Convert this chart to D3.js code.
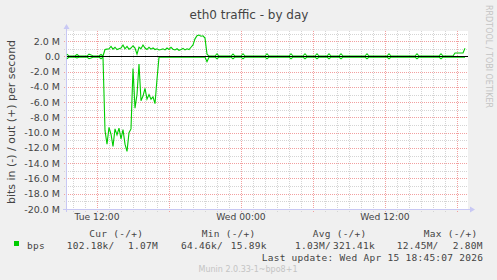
<!DOCTYPE html>
<html>
<head>
<meta charset="utf-8">
<script src="https://cdn.jsdelivr.net/npm/d3@7"></script>
<style>
  html, body { margin: 0; padding: 0; background: #f0f0f0; }
  svg { display: block; }
</style>
</head>
<body>
<div id="chart"></div>
<script>
// samples every 10 minutes from Tue 09:30, values in Mbit/s
const START = new Date(2026, 3, 14, 9, 30);
const END = new Date(2026, 3, 15, 18, 55);
const STEP_MINUTES = 10;

const OUT_MBPS = [
  0.3, 0.05, 0.05, 0.05, 0.05, 0.25, 0.05, 0.05, 0.05, 0.05,
  0.05, 0.3, 0.2, 0.05, 0.05, 0.05, 0.05, 0.25, 0.05, 0.9,
  0.95, 1.0, 1.3, 0.95, 1.2, 0.9, 1.0, 1.1, 1.5, 1.0,
  1.3, 0.95, 1.1, 1.4, 1.1, 0.3, 1.2, 1.0, 1.5, 1.1,
  0.9, 1.2, 0.95, 1.1, 0.9, 1.0, 0.85, 0.9, 1.0, 0.85,
  1.1, 0.9, 1.2, 0.95, 0.85, 1.0, 0.8, 0.9, 1.05, 0.85,
  1.0, 0.9, 1.2, 1.5, 2.3, 2.7, 2.8, 2.65, 2.7, 2.4,
  0.3, 0.05, 0.05, 0.05, 0.05, 0.35, 0.05, 0.05, 0.05, 0.05,
  0.05, 0.05, 0.05, 0.3, 0.05, 0.05, 0.05, 0.05, 0.35, 0.05,
  0.05, 0.05, 0.05, 0.05, 0.05, 0.05, 0.05, 0.05, 0.05, 0.05,
  0.35, 0.05, 0.05, 0.05, 0.05, 0.05, 0.05, 0.05, 0.05, 0.05,
  0.05, 0.05, 0.35, 0.05, 0.05, 0.05, 0.05, 0.05, 0.05, 0.35,
  0.05, 0.05, 0.05, 0.05, 0.05, 0.35, 0.05, 0.05, 0.05, 0.05,
  0.05, 0.35, 0.05, 0.05, 0.05, 0.05, 0.05, 0.35, 0.05, 0.05,
  0.05, 0.05, 0.05, 0.05, 0.05, 0.05, 0.05, 0.05, 0.05, 0.05,
  0.35, 0.05, 0.05, 0.05, 0.05, 0.05, 0.05, 0.05, 0.05, 0.05,
  0.05, 0.35, 0.05, 0.05, 0.05, 0.05, 0.05, 0.05, 0.05, 0.05,
  0.05, 0.05, 0.05, 0.05, 0.05, 0.35, 0.05, 0.05, 0.05, 0.05,
  0.05, 0.05, 0.05, 0.05, 0.05, 0.05, 0.05, 0.35, 0.05, 0.05,
  0.05, 0.05, 0.05, 0.05, 0.45, 0.45, 0.45, 0.45, 0.45, 1.07,
];

// drawn below zero
const IN_MBPS = [
  0.3, 0.1, 0.1, 0.1, 0.1, 0.2, 0.1, 0.1, 0.1, 0.1,
  0.1, 0.3, 0.2, 0.1, 0.1, 0.1, 0.1, 0.3, 0.1, 9.7,
  11.5, 9.3, 10.2, 11.8, 9.5, 10.3, 9.4, 10.8, 9.6, 11.5,
  12.45, 10.0, 9.5, 1.6, 6.8, 5.0, 1.0, 5.8, 5.2, 4.2,
  5.6, 5.0, 5.6, 5.3, 6.2, 3.0, 0.1, 0.1, 0.1, 0.1,
  0.1, 0.1, 0.1, 0.1, 0.1, 0.1, 0.1, 0.1, 0.1, 0.1,
  0.1, 0.1, 0.1, 0.1, 0.1, 0.1, 0.1, 0.1, 0.1, 0.1,
  0.7, 0.1, 0.1, 0.1, 0.1, 0.3, 0.1, 0.1, 0.1, 0.1,
  0.1, 0.1, 0.1, 0.3, 0.1, 0.1, 0.1, 0.1, 0.3, 0.1,
  0.1, 0.1, 0.1, 0.1, 0.1, 0.1, 0.1, 0.1, 0.1, 0.1,
  0.3, 0.1, 0.1, 0.1, 0.1, 0.1, 0.1, 0.1, 0.1, 0.1,
  0.1, 0.1, 0.3, 0.1, 0.1, 0.1, 0.1, 0.1, 0.1, 0.3,
  0.1, 0.1, 0.1, 0.1, 0.1, 0.3, 0.1, 0.1, 0.1, 0.1,
  0.1, 0.3, 0.1, 0.1, 0.1, 0.1, 0.1, 0.3, 0.1, 0.1,
  0.1, 0.1, 0.1, 0.1, 0.1, 0.1, 0.1, 0.1, 0.1, 0.1,
  0.3, 0.1, 0.1, 0.1, 0.1, 0.1, 0.1, 0.1, 0.1, 0.1,
  0.1, 0.3, 0.1, 0.1, 0.1, 0.1, 0.1, 0.1, 0.1, 0.1,
  0.1, 0.1, 0.1, 0.1, 0.1, 0.3, 0.1, 0.1, 0.1, 0.1,
  0.1, 0.1, 0.1, 0.1, 0.1, 0.1, 0.1, 0.3, 0.1, 0.1,
  0.1, 0.1, 0.1, 0.1, 0.1, 0.1, 0.1, 0.1, 0.1, 0.1,
];

const Y_TICKS = [2, 0, -2, -4, -6, -8, -10, -12, -14, -16, -18, -20];
const X_LABELS = [
  { time: new Date(2026, 3, 14, 12), label: "Tue 12:00" },
  { time: new Date(2026, 3, 15, 0), label: "Wed 00:00" },
  { time: new Date(2026, 3, 15, 12), label: "Wed 12:00" },
];

const LEGEND_HEADERS = ["Cur (-/+)", "Min (-/+)", "Avg (-/+)", "Max (-/+)"];
const LEGEND_IN = ["102.18k/", "64.46k/", "1.03M/", "12.45M/"];
const LEGEND_OUT = ["1.07M", "15.89k", "321.41k", "2.80M"];
const LAST_UPDATE = "Last update: Wed Apr 15 18:45:07 2026";

const GREEN = "#00cc00";
const TEXT = "#444";
const MONO = "'DejaVu Sans Mono', monospace";
const SANS = "'DejaVu Sans', sans-serif";

const width = 497;
const height = 280;
const plot = { left: 67, right: 468, top: 31, bottom: 209 };

const svg = d3
  .select("#chart")
  .append("svg")
  .attr("width", width)
  .attr("height", height)
  .attr("viewBox", [0, 0, width, height]);

svg.append("rect").attr("width", width).attr("height", height).attr("fill", "#f0f0f0");

const x = d3.scaleTime().domain([START, END]).range([plot.left, plot.right]);
const y = d3.scaleLinear().domain([-20, 3.33]).range([plot.bottom, plot.top]);

const px = (v) => Math.round(v) + 0.5;

svg
  .append("rect")
  .attr("x", plot.left)
  .attr("y", plot.top)
  .attr("width", plot.right - plot.left)
  .attr("height", plot.bottom - plot.top)
  .attr("fill", "#ffffff");

// grid
const grid = svg.append("g").attr("stroke-width", 1).attr("stroke-dasharray", "1,1");
const hours = d3.timeHour.range(START, END);

grid
  .selectAll("line.vgrid")
  .data(hours)
  .join("line")
  .attr("class", "vgrid")
  .attr("x1", (d) => px(x(d)))
  .attr("x2", (d) => px(x(d)))
  .attr("y1", plot.top)
  .attr("y2", plot.bottom + 3)
  .attr("stroke", (d) => (d.getHours() % 6 === 0 ? "#f2a0a0" : "#d4d4d4"));

const mbSteps = d3.range(-19, 4);

grid
  .selectAll("line.hgrid")
  .data(mbSteps)
  .join("line")
  .attr("class", "hgrid")
  .attr("x1", plot.left - 3)
  .attr("x2", plot.right)
  .attr("y1", (d) => px(y(d)))
  .attr("y2", (d) => px(y(d)))
  .attr("stroke", (d) => (d % 2 === 0 ? "#f2a0a0" : "#d4d4d4"));

// axes
const axisColor = "#c8c8f4";

svg
  .append("line")
  .attr("x1", plot.left - 4)
  .attr("x2", plot.right + 2)
  .attr("y1", px(plot.bottom))
  .attr("y2", px(plot.bottom))
  .attr("stroke", axisColor);

svg
  .append("line")
  .attr("x1", px(plot.left - 1))
  .attr("x2", px(plot.left - 1))
  .attr("y1", plot.bottom + 3)
  .attr("y2", plot.top - 2)
  .attr("stroke", axisColor);

svg
  .append("path")
  .attr("d", `M${plot.right + 2},${plot.bottom - 2.5} L${plot.right + 7},${plot.bottom + 0.5} L${plot.right + 2},${plot.bottom + 3.5} Z`)
  .attr("fill", axisColor);

svg
  .append("path")
  .attr("d", `M${plot.left - 3.5},${plot.top - 2} L${plot.left - 0.5},${plot.top - 7} L${plot.left + 2.5},${plot.top - 2} Z`)
  .attr("fill", axisColor);

// tick labels
svg
  .append("g")
  .selectAll("text")
  .data(Y_TICKS)
  .join("text")
  .attr("x", 60)
  .attr("y", (d) => y(d) + 3.5)
  .attr("text-anchor", "end")
  .attr("font-family", SANS)
  .attr("font-size", 9.5)
  .attr("fill", TEXT)
  .text((d) => (d === 0 ? "0.0" : `${d.toFixed(1)} M`));

svg
  .append("g")
  .selectAll("text")
  .data(X_LABELS)
  .join("text")
  .attr("x", (d) => x(d.time))
  .attr("y", 220)
  .attr("text-anchor", "middle")
  .attr("font-family", SANS)
  .attr("font-size", 9.2)
  .attr("fill", TEXT)
  .text((d) => d.label);

// data lines
const series = (values, sign) =>
  values.map((v, i) => ({ time: d3.timeMinute.offset(START, i * STEP_MINUTES), value: sign * v }));

const line = d3
  .line()
  .x((d) => x(d.time))
  .y((d) => y(d.value));

svg
  .append("path")
  .datum(series(IN_MBPS, -1))
  .attr("fill", "none")
  .attr("stroke", GREEN)
  .attr("stroke-width", 1.1)
  .attr("d", line);

svg
  .append("path")
  .datum(series(OUT_MBPS, 1))
  .attr("fill", "none")
  .attr("stroke", GREEN)
  .attr("stroke-width", 1.1)
  .attr("d", line);

svg
  .append("line")
  .attr("x1", plot.left)
  .attr("x2", plot.right)
  .attr("y1", px(y(0)))
  .attr("y2", px(y(0)))
  .attr("stroke", "#000");

// titles
svg
  .append("text")
  .attr("x", 249)
  .attr("y", 18.5)
  .attr("text-anchor", "middle")
  .attr("font-family", SANS)
  .attr("font-size", 12)
  .attr("fill", "#444")
  .text("eth0 traffic - by day");

svg
  .append("text")
  .attr("transform", `translate(15,${(plot.top + plot.bottom) / 2 + 2}) rotate(-90)`)
  .attr("text-anchor", "middle")
  .attr("font-family", SANS)
  .attr("font-size", 11)
  .attr("fill", TEXT)
  .text("bits in (-) / out (+) per second");

svg
  .append("text")
  .attr("transform", "translate(486,5) rotate(90)")
  .attr("font-family", SANS)
  .attr("font-size", 8)
  .attr("fill", "#c4c4c4")
  .text("RRDTOOL / TOBI OETIKER");

// legend
const headerX = [89.3, 201.7, 312.7, 423.7];
const inStartX = [66.7, 181, 295, 396.7];
const outEndX = [158, 266.7, 375, 482.7];

const legend = svg
  .append("g")
  .attr("font-family", MONO)
  .attr("font-size", 9.5)
  .attr("letter-spacing", 0.27)
  .attr("fill", TEXT);

legend
  .selectAll("text.head")
  .data(LEGEND_HEADERS)
  .join("text")
  .attr("class", "head")
  .attr("x", (d, i) => headerX[i])
  .attr("y", 237)
  .text((d) => d);

legend
  .append("rect")
  .attr("x", 14)
  .attr("y", 241)
  .attr("width", 5)
  .attr("height", 5)
  .attr("fill", GREEN);

legend.append("text").attr("x", 27).attr("y", 248.5).text("bps");

legend
  .selectAll("text.in")
  .data(LEGEND_IN)
  .join("text")
  .attr("class", "in")
  .attr("x", (d, i) => inStartX[i])
  .attr("y", 248.5)
  .text((d) => d);

legend
  .selectAll("text.out")
  .data(LEGEND_OUT)
  .join("text")
  .attr("class", "out")
  .attr("x", (d, i) => outEndX[i])
  .attr("y", 248.5)
  .attr("text-anchor", "end")
  .text((d) => d);

legend
  .append("text")
  .attr("x", 483.3)
  .attr("y", 260.5)
  .attr("text-anchor", "end")
  .text(LAST_UPDATE);

svg
  .append("text")
  .attr("x", 248)
  .attr("y", 272)
  .attr("text-anchor", "middle")
  .attr("font-family", SANS)
  .attr("font-size", 8)
  .attr("fill", "#c4c4c4")
  .text("Munin 2.0.33-1~bpo8+1");
</script>
</body>
</html>
